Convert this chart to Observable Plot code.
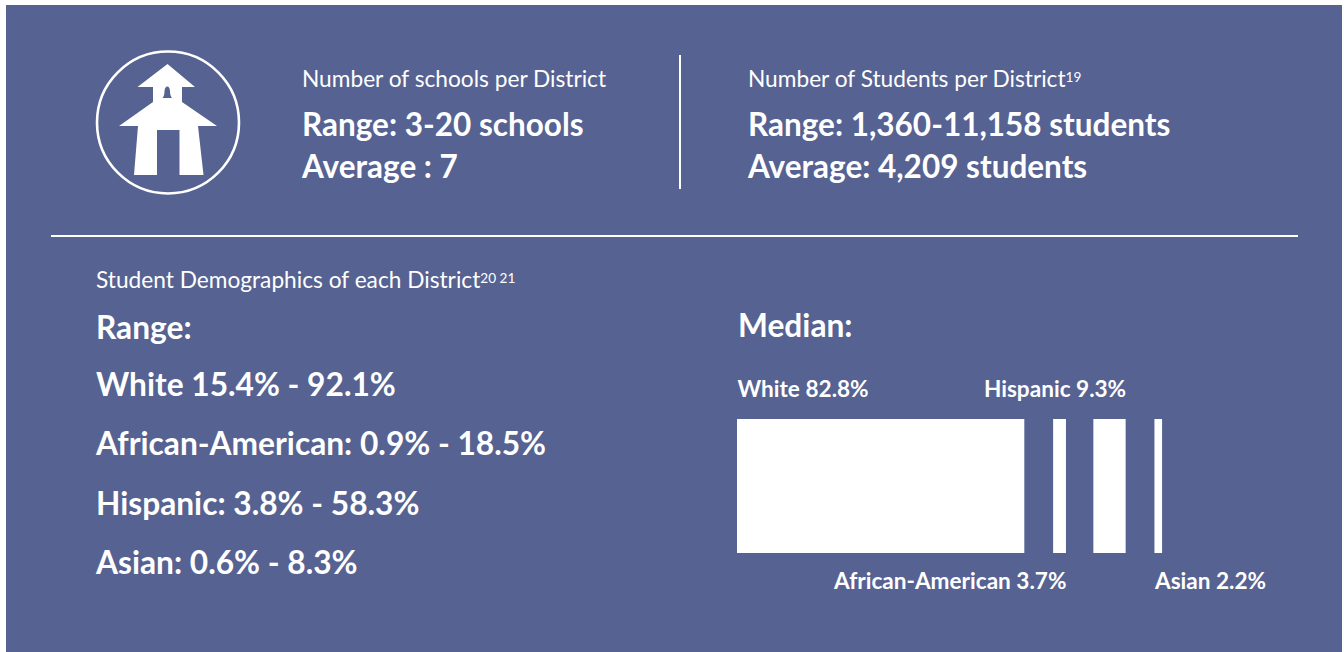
<!DOCTYPE html>
<html><head><meta charset="utf-8">
<script src="https://cdn.jsdelivr.net/npm/d3@7"></script>
<script src="https://cdn.jsdelivr.net/npm/@observablehq/plot@0.6"></script>
<style>
html,body{margin:0;padding:0;background:#fff;overflow:hidden}
#page{position:relative;width:1344px;height:652px;overflow:hidden;font-family:Lato,sans-serif;color:#fff}
#panel{position:absolute;left:6px;top:5px;width:1336px;height:647px;background:#566291}
.t{position:absolute;white-space:nowrap;line-height:1}
.t sup{font-size:60%;line-height:0;vertical-align:baseline;position:relative;top:-.4em}
.s{font-size:22.7px;font-weight:400}
.b{font-size:31.5px;font-weight:700}
.d{font-size:31.7px;font-weight:700}
#icon{position:absolute;left:0;top:0}
#bars{position:absolute;left:720px;top:360px}
#bars svg{display:block;background:transparent}
</style></head><body>
<div id="page"><div id="panel"></div>
<svg id="icon" width="300" height="210">
<circle cx="168" cy="122.5" r="71" fill="none" stroke="#fff" stroke-width="2.6"/>
<path fill="#fff" d="M167.5 64 L195 87 L182 87 L182 102 L217 126 L198 126 L203.5 175 L179.5 175 L179.5 130 L157 130 L157 175 L134 175 L138 126 L119 126 L153 102 L153 87 L137.5 87 Z"/>
<path fill="#566291" d="M162.5 98 Q164.5 96 164.5 91 Q165 86.5 167.3 86.5 Q169.6 86.5 170 91 Q170 96 172 98 Z"/>
</svg>
<div style="position:absolute;left:679px;top:55px;width:2px;height:134px;background:#fff"></div>
<div style="position:absolute;left:51px;top:235px;width:1247px;height:2.4px;background:#fff"></div>
<div id="texts"></div>
<div id="bars"></div>
</div>
<script>
const headerLeft = ["Number of schools per District", "Range: 3-20 schools", "Average : 7"];
const headerRight = ["Number of Students per District<sup>19</sup>", "Range: 1,360-11,158 students", "Average: 4,209 students"];
const demoTitle = "Student Demographics of each District<sup>20 21</sup>";
const rangeLines = ["Range:", "White 15.4% - 92.1%", "African-American: 0.9% - 18.5%", "Hispanic: 3.8% - 58.3%", "Asian: 0.6% - 8.3%"];
const medianTitle = "Median:";

const groups = ["White", "African-American", "Hispanic", "Asian"];
const medians = [82.8, 3.7, 9.3, 2.2];
const gaps = [0, 8.3, 7.9, 8.3];

const place = (html, cls, x, y) => {
  const e = document.createElement("div");
  e.className = "t " + cls; e.innerHTML = html;
  e.style.left = x + "px"; e.style.top = y + "px";
  document.getElementById("texts").appendChild(e);
};
place(headerLeft[0], "s", 302, 68);
place(headerLeft[1], "b", 302, 109);
place(headerLeft[2], "b", 302, 151);
place(headerRight[0], "s", 748, 68);
place(headerRight[1], "b", 748, 109);
place(headerRight[2], "b", 748, 151);
place(demoTitle, "s", 96, 269);
[312, 369, 428, 488, 547].forEach((y, i) => place(rangeLines[i], "d", 96, y));
place(medianTitle, "d", 738, 310);

let cursor = 0;
const table = groups.map((g, i) => {
  const start = cursor + gaps[i];
  cursor = start + medians[i];
  return {group: g, value: medians[i], start, end: cursor, label: `${g} ${medians[i]}%`};
});
const labelFont = {fill: "#fff", fontSize: 22.6, fontWeight: 700, fontFamily: "Lato, sans-serif"};
const chart = Plot.plot({
  width: 560, height: 240,
  marginLeft: 0, marginRight: 0, marginTop: 59, marginBottom: 47,
  style: {background: "transparent", overflow: "visible"},
  x: {axis: null, domain: [0, 100], range: [17, 364]},
  marks: [
    Plot.rectX(table, {x1: "start", x2: "end", fill: "#fff"}),
    Plot.text(table.filter(d => d.group === "White"), {x: "start", text: "label", frameAnchor: "top", textAnchor: "start", dy: -39, ...labelFont}),
    Plot.text(table.filter(d => d.group === "Hispanic"), {x: "end", text: "label", frameAnchor: "top", textAnchor: "end", dy: -39, ...labelFont}),
    Plot.text(table.filter(d => d.group === "African-American"), {x: "end", text: "label", frameAnchor: "bottom", textAnchor: "end", dy: 35, ...labelFont}),
    Plot.text(table.filter(d => d.group === "Asian"), {x: "start", text: "label", frameAnchor: "bottom", textAnchor: "start", dy: 35, ...labelFont})
  ]
});
document.getElementById("bars").appendChild(chart);
</script>
</body></html>
